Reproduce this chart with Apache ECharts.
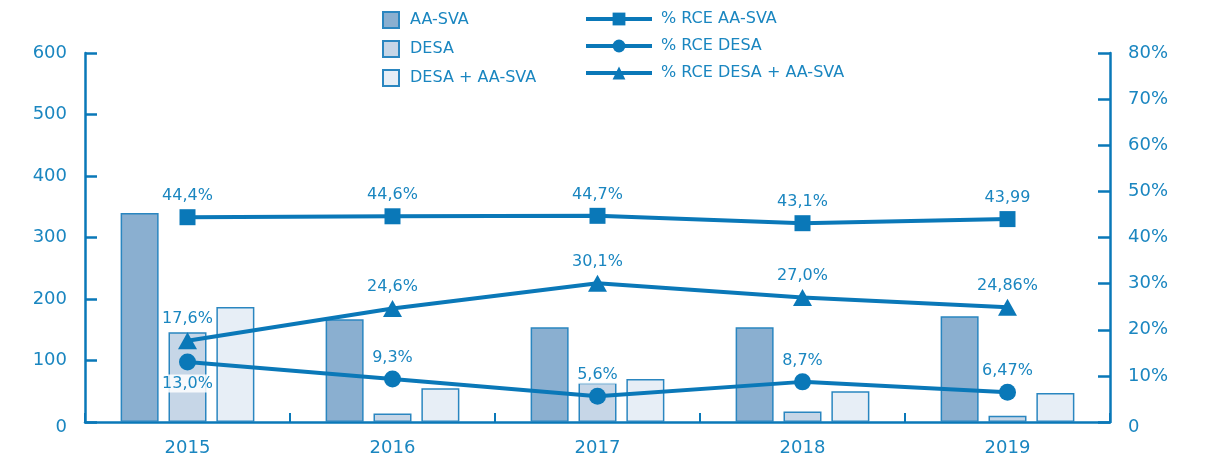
<!DOCTYPE html>
<html><head><meta charset="utf-8">
<script src="https://cdn.jsdelivr.net/npm/echarts@6/dist/echarts.min.js"></script>
<style>html,body{margin:0;padding:0;background:#fff}#c{width:1210px;height:458px}</style>
</head><body><div id="c"></div>
<script>
const categories = ['2015','2016','2017','2018','2019'];
const aaSva = [340, 167, 154, 154, 172];
const desa = [146, 14, 64, 17, 10];
const desaAaSva = [187, 55, 70, 50, 47];
const pctAaSva = [44.4, 44.6, 44.7, 43.1, 43.99];
const pctAaSvaLabels = ['44,4%','44,6%','44,7%','43,1%','43,99'];
const pctDesa = [13.0, 9.3, 5.6, 8.7, 6.47];
const pctDesaLabels = ['13,0%','9,3%','5,6%','8,7%','6,47%'];
const pctSum = [17.6, 24.6, 30.1, 27.0, 24.86];
const pctSumLabels = ['17,6%','24,6%','30,1%','27,0%','24,86%'];
const leftTicks = ['0','100','200','300','400','500','600'];
const rightTicks = ['0','10%','20%','30%','40%','50%','60%','70%','80%'];

const C = '#0a78b8';
const T = '#1a86c0';
const F = 'DejaVu Sans';
const chart = echarts.init(document.getElementById('c'));
const labelBase = {show:true, color:T, fontSize:16, fontFamily:F, backgroundColor:'rgba(255,255,255,0.85)', padding:[1,2], distance:4};
function lineData(vals, labels, positions){
  return vals.map((v,i)=>({value:v, label:Object.assign({}, labelBase, {formatter:labels[i], position: positions? positions[i]:'top'})}));
}
const axisLbl = {color:T, fontSize:18, fontFamily:F, rich:{z:{color:T, fontSize:18, fontFamily:F, padding:[10,0,0,0]}}};
chart.setOption({
  animation:false,
  textStyle:{fontFamily:F},
  legend:[
    {data:['AA-SVA','DESA','DESA + AA-SVA'], orient:'vertical', left:377, top:6, itemWidth:16, itemHeight:16, itemGap:11, icon:'rect',
     textStyle:{color:T, fontSize:16, fontFamily:F, padding:[0,0,0,6]}},
    {data:['% RCE AA-SVA','% RCE DESA','% RCE DESA + AA-SVA'], orient:'vertical', left:579, top:6, itemWidth:66, itemHeight:16, itemGap:11,
     lineStyle:{width:4}, textStyle:{color:T, fontSize:16, fontFamily:F, padding:[0,0,0,4]}}
  ],
  grid:{left:85, right:100, top:53, bottom:36},
  xAxis:{type:'category', data:categories,
    axisLine:{lineStyle:{color:C, width:2.5}},
    axisTick:{show:true, inside:true, length:9, lineStyle:{color:C, width:2}},
    axisLabel:{color:T, fontSize:18, fontFamily:F, margin:17}},
  yAxis:[
    {type:'value', min:0, max:600, interval:100, position:'left',
     axisLine:{show:true, lineStyle:{color:C, width:2.5}},
     axisTick:{show:true, inside:true, length:12, lineStyle:{color:C, width:2.5}},
     splitLine:{show:false},
     axisLabel:Object.assign({}, axisLbl, {margin:18, formatter:(v)=>{const s=leftTicks[Math.round(v/100)]; return v===0?'{z|'+s+'}':s;}})},
    {type:'value', min:0, max:80, interval:10, position:'right',
     axisLine:{show:true, lineStyle:{color:C, width:2.5}},
     axisTick:{show:true, inside:true, length:12, lineStyle:{color:C, width:2.5}},
     splitLine:{show:false},
     axisLabel:Object.assign({}, axisLbl, {margin:18, formatter:(v)=>{const s=rightTicks[Math.round(v/10)]; return v===0?'{z|'+s+'}':s;}})}
  ],
  series:[
    {name:'AA-SVA', type:'bar', data:aaSva, barWidth:38, barGap:'26%',
     itemStyle:{color:'#8aafd0', borderColor:'#2a86c0', borderWidth:1.5}},
    {name:'DESA', type:'bar', data:desa, barWidth:38, barGap:'26%',
     itemStyle:{color:'#c6d6e7', borderColor:'#2a86c0', borderWidth:1.5}},
    {name:'DESA + AA-SVA', type:'bar', data:desaAaSva, barWidth:38, barGap:'26%',
     itemStyle:{color:'#e7eef6', borderColor:'#2a86c0', borderWidth:1.5}},
    {name:'% RCE AA-SVA', type:'line', yAxisIndex:1, data:lineData(pctAaSva, pctAaSvaLabels),
     symbol:'rect', symbolSize:16, lineStyle:{color:C, width:4}, itemStyle:{color:C}, z:5},
    {name:'% RCE DESA', type:'line', yAxisIndex:1, data:lineData(pctDesa, pctDesaLabels, ['bottom','top','top','top','top']),
     symbol:'circle', symbolSize:17, lineStyle:{color:C, width:4}, itemStyle:{color:C}, z:5},
    {name:'% RCE DESA + AA-SVA', type:'line', yAxisIndex:1, data:lineData(pctSum, pctSumLabels),
     symbol:'triangle', symbolSize:[19,17], lineStyle:{color:C, width:4}, itemStyle:{color:C}, z:5}
  ]
});
</script></body></html>
